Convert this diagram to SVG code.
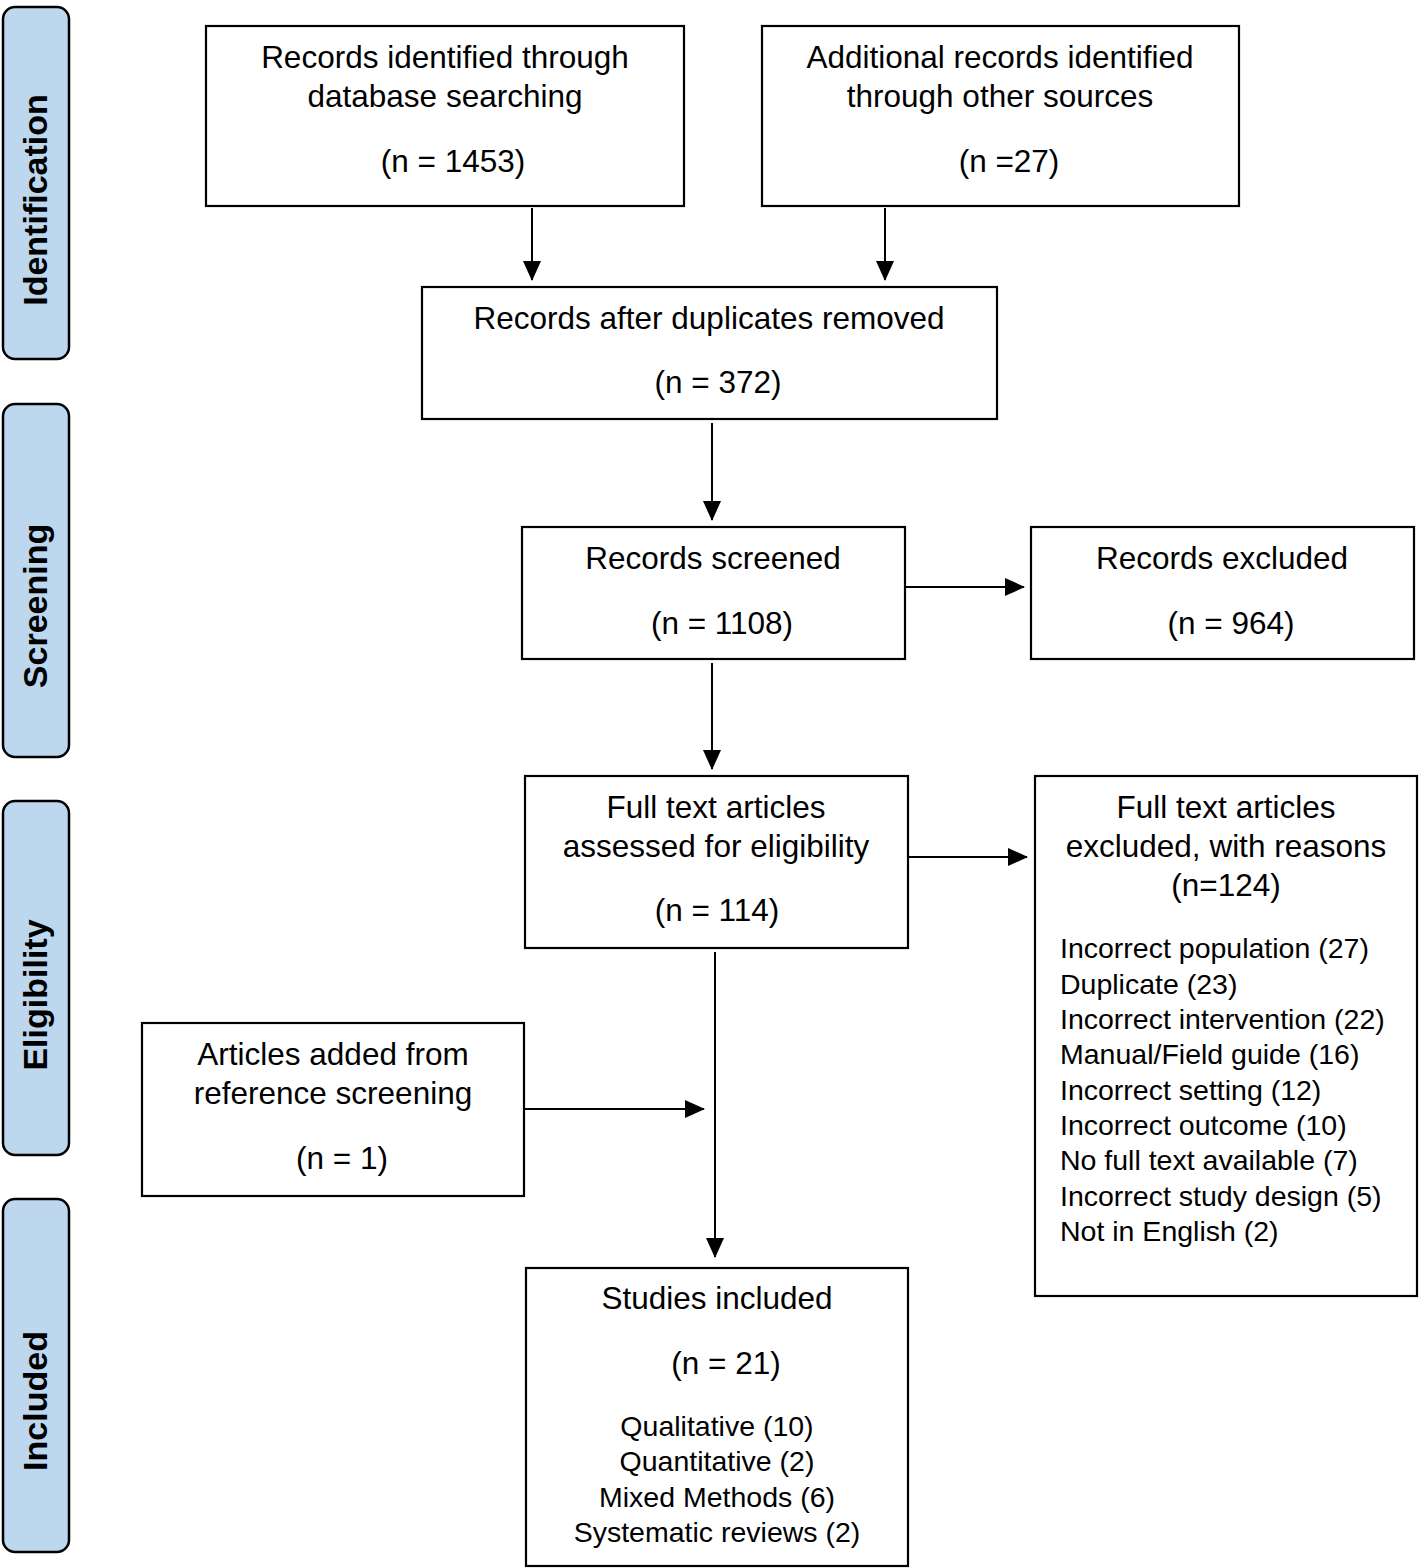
<svg xmlns="http://www.w3.org/2000/svg" width="1420" height="1568" viewBox="0 0 1420 1568">
<defs>
<marker id="ah" markerWidth="20" markerHeight="18" refX="19" refY="9" orient="auto" markerUnits="userSpaceOnUse">
<path d="M0,0 L20,9 L0,18 Z" fill="#000"/>
</marker>
<style>
.side{fill:#bdd7ee;stroke:#000;stroke-width:2.5}
.box{fill:#fff;stroke:#000;stroke-width:2.2}
.t{font-family:"Liberation Sans",Arial,sans-serif;font-size:31.5px;fill:#000;text-anchor:middle}
.tl{font-family:"Liberation Sans",Arial,sans-serif;font-size:28.5px;fill:#000}
.tc{font-family:"Liberation Sans",Arial,sans-serif;font-size:28.5px;fill:#000;text-anchor:middle}
.s{font-family:"Liberation Sans",Arial,sans-serif;font-size:34px;font-weight:bold;fill:#000;text-anchor:middle}
.c{stroke:#000;stroke-width:2;fill:none;marker-end:url(#ah)}
</style>
</defs>
<rect width="1420" height="1568" fill="#fff"/>
<g id="stage-identification"><rect class="side" x="3" y="7" width="66" height="352" rx="12"/><text class="s" transform="translate(47,200) rotate(-90)">Identification</text></g>
<g id="stage-screening"><rect class="side" x="3" y="404" width="66" height="353" rx="12"/><text class="s" transform="translate(47,606) rotate(-90)">Screening</text></g>
<g id="stage-eligibility"><rect class="side" x="3" y="801" width="66" height="354" rx="12"/><text class="s" transform="translate(47,995) rotate(-90)">Eligibility</text></g>
<g id="stage-included"><rect class="side" x="3" y="1199" width="66" height="353" rx="12"/><text class="s" transform="translate(47,1401) rotate(-90)">Included</text></g>

<g id="n-database"><rect class="box" x="206" y="26" width="478" height="180"/>
<text class="t" x="445" y="68">Records identified through</text>
<text class="t" x="445" y="107">database searching</text>
<text class="t" x="453" y="172">(n = 1453)</text></g>
<g id="n-other"><rect class="box" x="762" y="26" width="477" height="180"/>
<text class="t" x="1000" y="68">Additional records identified</text>
<text class="t" x="1000" y="107">through other sources</text>
<text class="t" x="1009" y="172">(n =27)</text></g>
<g id="n-dedup"><rect class="box" x="422" y="287" width="575" height="132"/>
<text class="t" x="709" y="329">Records after duplicates removed</text>
<text class="t" x="718" y="393">(n = 372)</text></g>
<g id="n-screened"><rect class="box" x="522" y="527" width="383" height="132"/>
<text class="t" x="713" y="569">Records screened</text>
<text class="t" x="722" y="634">(n = 1108)</text></g>
<g id="n-excluded"><rect class="box" x="1031" y="527" width="383" height="132"/>
<text class="t" x="1222" y="569">Records excluded</text>
<text class="t" x="1231" y="634">(n = 964)</text></g>
<g id="n-fulltext"><rect class="box" x="525" y="776" width="383" height="172"/>
<text class="t" x="716" y="818">Full text articles</text>
<text class="t" x="716" y="857">assessed for eligibility</text>
<text class="t" x="717" y="921">(n = 114)</text></g>
<g id="n-ftexcluded"><rect class="box" x="1035" y="776" width="382" height="520"/>
<text class="t" x="1226" y="818">Full text articles</text>
<text class="t" x="1226" y="857">excluded, with reasons</text>
<text class="t" x="1226" y="896">(n=124)</text>
<text class="tl" x="1060" y="958">Incorrect population (27)</text>
<text class="tl" x="1060" y="994">Duplicate (23)</text>
<text class="tl" x="1060" y="1029">Incorrect intervention (22)</text>
<text class="tl" x="1060" y="1064">Manual/Field guide (16)</text>
<text class="tl" x="1060" y="1100">Incorrect setting (12)</text>
<text class="tl" x="1060" y="1135">Incorrect outcome (10)</text>
<text class="tl" x="1060" y="1170">No full text available (7)</text>
<text class="tl" x="1060" y="1206">Incorrect study design (5)</text>
<text class="tl" x="1060" y="1241">Not in English (2)</text></g>
<g id="n-reference"><rect class="box" x="142" y="1023" width="382" height="173"/>
<text class="t" x="333" y="1065">Articles added from</text>
<text class="t" x="333" y="1104">reference screening</text>
<text class="t" x="342" y="1169">(n = 1)</text></g>
<g id="n-included"><rect class="box" x="526" y="1268" width="382" height="298"/>
<text class="t" x="717" y="1309">Studies included</text>
<text class="t" x="726" y="1374">(n = 21)</text>
<text class="tc" x="717" y="1436">Qualitative (10)</text>
<text class="tc" x="717" y="1471">Quantitative (2)</text>
<text class="tc" x="717" y="1507">Mixed Methods (6)</text>
<text class="tc" x="717" y="1542">Systematic reviews (2)</text></g>

<g id="connectors">
<line class="c" x1="532" y1="208" x2="532" y2="280"/>
<line class="c" x1="885" y1="208" x2="885" y2="280"/>
<line class="c" x1="712" y1="423" x2="712" y2="520"/>
<line class="c" x1="712" y1="663" x2="712" y2="769"/>
<line class="c" x1="906" y1="587" x2="1024" y2="587"/>
<line class="c" x1="909" y1="857" x2="1027" y2="857"/>
<line class="c" x1="715" y1="952" x2="715" y2="1257"/>
<line class="c" x1="525" y1="1109" x2="704" y2="1109"/>
</g>
</svg>
